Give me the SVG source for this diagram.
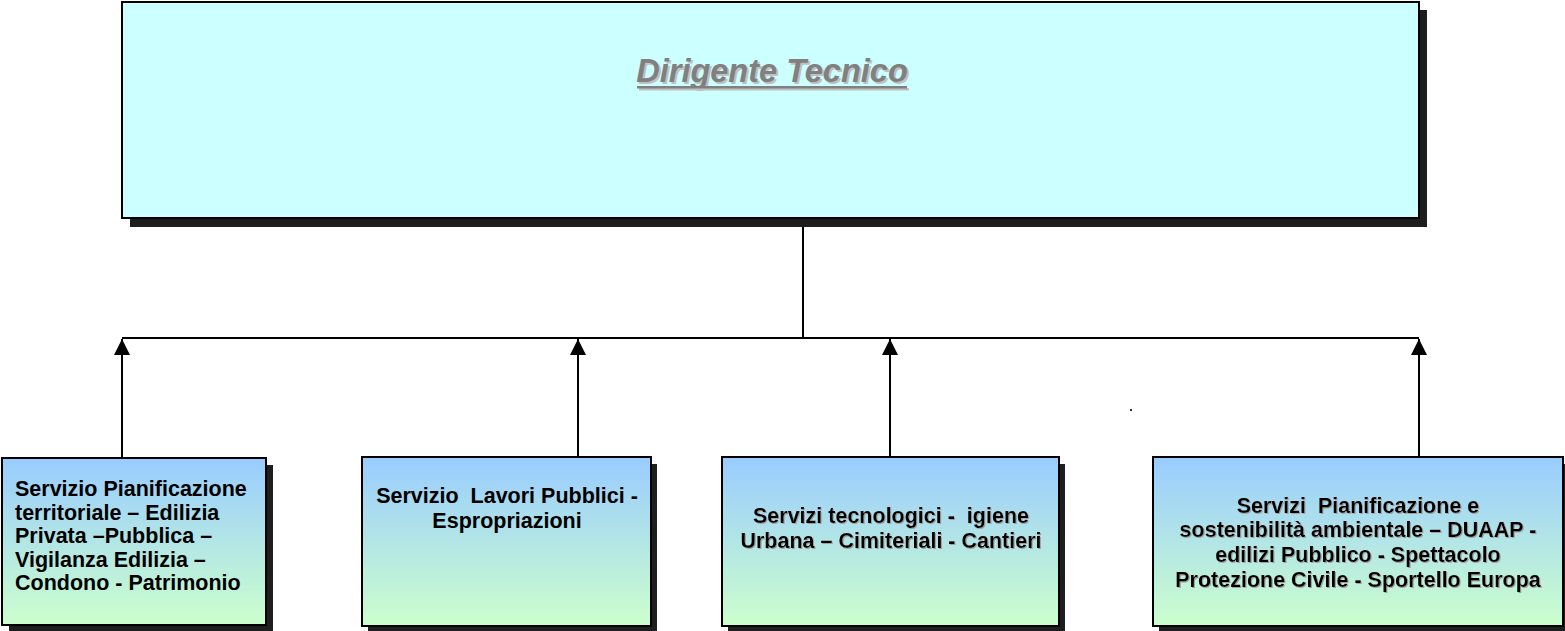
<svg xmlns="http://www.w3.org/2000/svg" width="1565" height="631" viewBox="0 0 1565 631">
<defs>
<linearGradient id="g" x1="0" y1="0" x2="0" y2="1">
<stop offset="0" stop-color="#99CCFF"/>
<stop offset="1" stop-color="#CCFFCC"/>
</linearGradient>
<marker id="arr" markerWidth="16" markerHeight="16" viewBox="0 0 16 16" refX="16" refY="8" orient="auto" markerUnits="userSpaceOnUse">
<path d="M0,0 L16,8 L0,16 Z" fill="#000"/>
</marker>
<filter id="ts" x="-5%" y="-20%" width="110%" height="140%">
<feOffset dx="1" dy="1" in="SourceAlpha" result="o"/>
<feFlood flood-color="#a0a0a0"/>
<feComposite operator="in" in2="o" result="s"/>
<feMerge><feMergeNode in="s"/><feMergeNode in="SourceGraphic"/></feMerge>
</filter>
</defs>
<style>
.sh{fill:#1e1e1e}
.box{fill:url(#g);stroke:#000;stroke-width:2}
.t{font-family:"Liberation Sans",Arial,sans-serif;font-weight:bold;font-size:21.5px;fill:#000;white-space:pre}
.c{text-anchor:middle}
.ln{stroke:#000;stroke-width:2;fill:none}
</style>
<g id="connectors">
<path class="ln" d="M803,218 V338 M122,338 H1419"/>
<path class="ln" d="M122,458 V339" marker-end="url(#arr)"/>
<path class="ln" d="M578,458 V339" marker-end="url(#arr)"/>
<path class="ln" d="M890,458 V339" marker-end="url(#arr)"/>
<path class="ln" d="M1419,458 V339" marker-end="url(#arr)"/>
</g>
<g id="dirigente">
<rect class="sh" x="130" y="10" width="1297" height="217"/>
<rect x="122" y="2" width="1297" height="216" fill="#CCFFFF" stroke="#000" stroke-width="2"/>
<g font-family="'Liberation Sans',Arial,sans-serif" font-weight="bold" font-style="italic" font-size="32.5" text-anchor="middle">
<text x="774" y="84" fill="#C0C0C0">Dirigente Tecnico</text>
<text x="772" y="82" fill="#808080">Dirigente Tecnico</text>
</g>
<rect x="639" y="88" width="270" height="2.5" fill="#C0C0C0"/>
<rect x="637" y="86" width="270" height="2.5" fill="#808080"/>
</g>
<g id="n1">
<rect class="sh" x="9" y="465" width="264" height="166"/>
<rect class="box" x="2" y="458" width="264" height="167"/>
<text class="t" x="15" y="496">Servizio Pianificazione</text>
<text class="t" x="15" y="520">territoriale – Edilizia</text>
<text class="t" x="15" y="543">Privata –Pubblica –</text>
<text class="t" x="15" y="567">Vigilanza Edilizia –</text>
<text class="t" x="15" y="590">Condono - Patrimonio</text>
</g>
<g id="n2">
<rect class="sh" x="368" y="464" width="289" height="167"/>
<rect class="box" x="362" y="457" width="289" height="169"/>
<text class="t c" x="507" y="503" xml:space="preserve">Servizio  Lavori Pubblici -</text>
<text class="t c" x="507" y="528">Espropriazioni</text>
</g>
<g id="n3">
<rect class="sh" x="728" y="464" width="337" height="167"/>
<rect class="box" x="722" y="457" width="337" height="169"/>
<g filter="url(#ts)">
<text class="t c" x="891" y="523" xml:space="preserve">Servizi tecnologici -  igiene</text>
<text class="t c" x="891" y="548">Urbana – Cimiteriali - Cantieri</text>
</g>
</g>
<g id="n4">
<rect class="sh" x="1159" y="464" width="410" height="167"/>
<rect class="box" x="1153" y="457" width="410" height="169"/>
<g filter="url(#ts)">
<text class="t c" x="1358" y="513" xml:space="preserve">Servizi  Pianificazione e</text>
<text class="t c" x="1358" y="537">sostenibilità ambientale – DUAAP -</text>
<text class="t c" x="1358" y="562">edilizi Pubblico - Spettacolo</text>
<text class="t c" x="1358" y="587">Protezione Civile - Sportello Europa</text>
</g>
</g>
<rect x="1130" y="409" width="2" height="2" fill="#333"/>
</svg>
